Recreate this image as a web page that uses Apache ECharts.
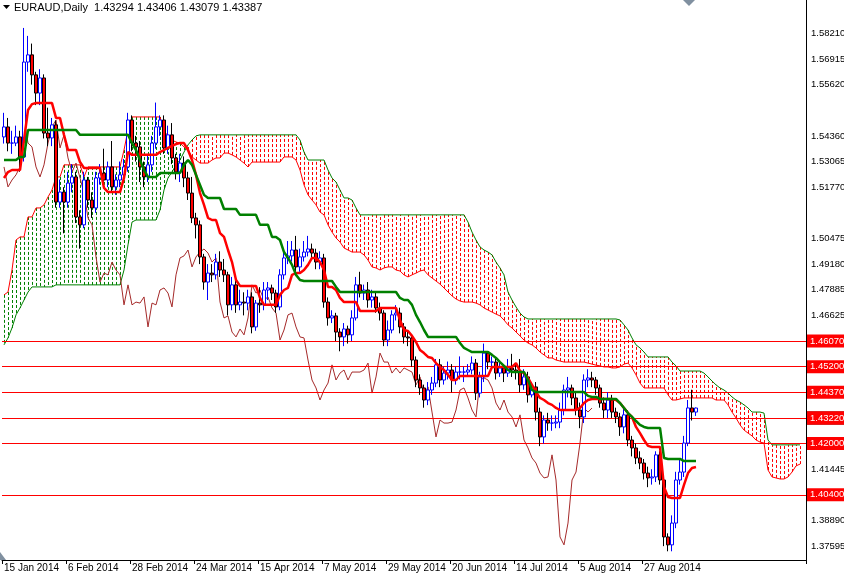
<!DOCTYPE html>
<html><head><meta charset="utf-8">
<script src="https://cdn.jsdelivr.net/npm/echarts@6/dist/echarts.min.js"></script>
<style>html,body{margin:0;padding:0;background:#fff}#c{width:844px;height:576px}</style>
</head><body><div id="c"></div>
<script>
const firstOpen = 1.5396;
const closes = [1.5435,1.5372,1.5372,1.5396,1.5318,1.5688,1.5716,1.5638,1.5567,1.5626,
1.5411,1.5392,1.5443,1.5142,1.5181,1.5142,1.5216,1.5240,1.5084,1.5053,
1.5228,1.5150,1.5119,1.5236,1.5255,1.5228,1.5279,1.5201,1.5228,1.5248,
1.5279,1.5462,1.5372,1.5357,1.5279,1.5240,1.5287,1.5372,1.5435,1.5462,
1.5353,1.5404,1.5314,1.5259,1.5294,1.5236,1.5177,1.5080,1.5053,1.4928,
1.4830,1.4865,1.4858,1.4908,1.4877,1.4858,1.4741,1.4819,1.4741,1.4752,
1.4748,1.4772,1.4655,1.4748,1.4741,1.4799,1.4807,1.4787,1.4733,1.4858,
1.4924,1.4932,1.4955,1.4889,1.4928,1.4947,1.4959,1.4943,1.4908,1.4924,
1.4752,1.4690,1.4698,1.4635,1.4616,1.4647,1.4624,1.4690,1.4819,1.4787,
1.4799,1.4760,1.4772,1.4729,1.4709,1.4604,1.4643,1.4702,1.4709,1.4655,
1.4616,1.4612,1.4526,1.4448,1.4417,1.4370,1.4409,1.4436,1.4507,1.4448,
1.4475,1.4487,1.4448,1.4479,1.4479,1.4479,1.4487,1.4514,1.4397,1.4460,
1.4553,1.4518,1.4518,1.4475,1.4495,1.4475,1.4495,1.4487,1.4479,1.4429,
1.4460,1.4390,1.4421,1.4323,1.4226,1.4292,1.4280,1.4280,1.4284,1.4331,
1.4409,1.4417,1.4378,1.4331,1.4304,1.4448,1.4456,1.4448,1.4417,1.4358,
1.4331,1.4370,1.4323,1.4304,1.4265,1.4312,1.4214,1.4183,1.4144,1.4124,
1.4085,1.4066,1.4070,1.4156,1.4058,1.3836,1.3805,1.3890,1.4058,1.4089,
1.4202,1.4339,1.4323,1.43387];
const highs = [1.5490,1.5470,1.5420,1.5440,1.5420,1.5821,1.5790,1.5760,1.5650,1.5660,
1.5640,1.5510,1.5470,1.5460,1.5230,1.5200,1.5260,1.5290,1.5260,1.5110,
1.5260,1.5240,1.5180,1.5260,1.5290,1.5350,1.5300,1.5380,1.5250,1.5300,
1.5310,1.5490,1.5480,1.5400,1.5380,1.5300,1.5330,1.5400,1.5530,1.5480,
1.5480,1.5440,1.5450,1.5330,1.5330,1.5320,1.5260,1.5240,1.5100,1.5070,
1.4940,1.4900,1.4900,1.4940,1.4950,1.4920,1.4870,1.4850,1.4840,1.4800,
1.4790,1.4800,1.4790,1.4760,1.4810,1.4830,1.4830,1.4820,1.4800,1.4880,
1.4950,1.4990,1.4990,1.5010,1.4960,1.4990,1.5010,1.4980,1.4960,1.4950,
1.4940,1.4770,1.4720,1.4710,1.4650,1.4670,1.4660,1.4720,1.4850,1.4870,
1.4820,1.4830,1.4800,1.4790,1.4750,1.4720,1.4680,1.4720,1.4740,1.4730,
1.4670,1.4640,1.4620,1.4540,1.4470,1.4430,1.4440,1.4460,1.4530,1.4530,
1.4500,1.4520,1.4510,1.4500,1.4540,1.4500,1.4510,1.4540,1.4530,1.4480,
1.4590,1.4560,1.4540,1.4530,1.4520,1.4510,1.4530,1.4550,1.4510,1.4530,
1.4490,1.4480,1.4440,1.4440,1.4340,1.4310,1.4320,1.4310,1.4310,1.4360,
1.4430,1.4460,1.4430,1.4400,1.4360,1.4470,1.4490,1.4480,1.4460,1.4430,
1.4380,1.4400,1.4390,1.4340,1.4320,1.4340,1.4330,1.4230,1.4200,1.4170,
1.4140,1.4110,1.4100,1.4170,1.4170,1.4070,1.3850,1.3920,1.4090,1.4140,
1.4230,1.4370,1.4410,1.43406];
const lows = [1.5370,1.5340,1.5330,1.5360,1.5260,1.5300,1.5650,1.5600,1.5520,1.5520,
1.5390,1.5360,1.5360,1.5120,1.5120,1.5020,1.5120,1.5180,1.5060,1.4960,
1.5040,1.5120,1.5080,1.5100,1.5210,1.5200,1.5200,1.5180,1.5170,1.5200,
1.5220,1.5260,1.5340,1.5300,1.5220,1.5200,1.5220,1.5260,1.5350,1.5400,
1.5330,1.5330,1.5290,1.5230,1.5220,1.5200,1.5150,1.5060,1.5000,1.4900,
1.4800,1.4760,1.4830,1.4840,1.4850,1.4830,1.4700,1.4720,1.4710,1.4720,
1.4700,1.4720,1.4630,1.4640,1.4710,1.4720,1.4760,1.4760,1.4710,1.4720,
1.4840,1.4900,1.4910,1.4870,1.4870,1.4910,1.4930,1.4920,1.4880,1.4880,
1.4730,1.4660,1.4670,1.4600,1.4560,1.4580,1.4590,1.4600,1.4680,1.4770,
1.4760,1.4730,1.4730,1.4710,1.4680,1.4580,1.4580,1.4630,1.4680,1.4630,
1.4590,1.4580,1.4500,1.4420,1.4390,1.4340,1.4350,1.4390,1.4420,1.4420,
1.4430,1.4450,1.4400,1.4430,1.4450,1.4440,1.4460,1.4470,1.4370,1.4380,
1.4440,1.4490,1.4490,1.4450,1.4460,1.4440,1.4460,1.4460,1.4450,1.4400,
1.4410,1.4360,1.4380,1.4290,1.4190,1.4200,1.4250,1.4250,1.4260,1.4260,
1.4310,1.4380,1.4350,1.4310,1.4260,1.4280,1.4420,1.4420,1.4390,1.4340,
1.4300,1.4300,1.4300,1.4280,1.4230,1.4240,1.4190,1.4150,1.4120,1.4100,
1.4060,1.4030,1.4040,1.4050,1.4040,1.3800,1.3780,1.3780,1.3870,1.4040,
1.4070,1.4190,1.4290,1.43079];
const tenkan = [1.5236,1.5259,1.5267,1.5267,1.5267,1.5384,1.5501,1.5524,1.5528,1.5528,
1.5528,1.5528,1.5528,1.5470,1.5470,1.5404,1.5345,1.5345,1.5345,1.5298,
1.5275,1.5275,1.5275,1.5275,1.5275,1.5197,1.5181,1.5181,1.5181,1.5181,
1.5236,1.5337,1.5326,1.5326,1.5326,1.5326,1.5326,1.5326,1.5326,1.5337,
1.5345,1.5353,1.5361,1.5368,1.5372,1.5372,1.5345,1.5306,1.5248,1.5177,
1.5131,1.5080,1.5072,1.5072,1.5021,1.5006,1.4955,1.4908,1.4838,1.4815,
1.4815,1.4815,1.4815,1.4815,1.4768,1.4741,1.4741,1.4741,1.4741,1.4780,
1.4799,1.4807,1.4858,1.4865,1.4865,1.4877,1.4897,1.4924,1.4924,1.4908,
1.4877,1.4811,1.4811,1.4799,1.4768,1.4752,1.4752,1.4752,1.4752,1.4717,
1.4717,1.4717,1.4717,1.4717,1.4729,1.4729,1.4729,1.4729,1.4729,1.4682,
1.4643,1.4639,1.4620,1.4596,1.4565,1.4553,1.4538,1.4534,1.4514,1.4499,
1.4487,1.4468,1.4448,1.4448,1.4464,1.4464,1.4464,1.4464,1.4464,1.4464,
1.4464,1.4464,1.4499,1.4499,1.4499,1.4499,1.4499,1.4499,1.4514,1.4483,
1.4475,1.4456,1.4429,1.4401,1.4378,1.4370,1.4358,1.4351,1.4339,1.4331,
1.4331,1.4331,1.4331,1.4331,1.4339,1.4358,1.4370,1.4374,1.4374,1.4374,
1.4374,1.4374,1.4374,1.4370,1.4358,1.4339,1.4319,1.4304,1.4265,1.4241,
1.4214,1.4191,1.4187,1.4187,1.4187,1.4031,1.3992,1.3988,1.3988,1.3988,
1.4039,1.4085,1.4105,1.4109];
const kijun = [1.5306,1.5306,1.5306,1.5306,1.5318,1.5318,1.5423,1.5423,1.5423,1.5423,
1.5423,1.5423,1.5423,1.5423,1.5423,1.5423,1.5423,1.5423,1.5423,1.5404,
1.5404,1.5404,1.5404,1.5404,1.5404,1.5404,1.5404,1.5404,1.5404,1.5404,
1.5404,1.5404,1.5372,1.5345,1.5306,1.5267,1.5240,1.5240,1.5240,1.5255,
1.5255,1.5255,1.5255,1.5255,1.5255,1.5287,1.5306,1.5287,1.5248,1.5209,
1.5170,1.5158,1.5158,1.5158,1.5158,1.5115,1.5115,1.5115,1.5115,1.5092,
1.5092,1.5092,1.5092,1.5092,1.5053,1.5053,1.5053,1.5006,1.5006,1.4994,
1.4947,1.4924,1.4897,1.4858,1.4838,1.4834,1.4834,1.4834,1.4834,1.4834,
1.4834,1.4834,1.4834,1.4811,1.4791,1.4791,1.4791,1.4791,1.4791,1.4791,
1.4791,1.4791,1.4791,1.4791,1.4791,1.4791,1.4791,1.4791,1.4791,1.4768,
1.4760,1.4760,1.4741,1.4702,1.4674,1.4643,1.4616,1.4616,1.4616,1.4616,
1.4616,1.4616,1.4616,1.4616,1.4592,1.4573,1.4565,1.4557,1.4557,1.4557,
1.4557,1.4557,1.4546,1.4534,1.4518,1.4503,1.4487,1.4479,1.4479,1.4479,
1.4479,1.4448,1.4409,1.4401,1.4401,1.4401,1.4401,1.4401,1.4401,1.4401,
1.4401,1.4401,1.4401,1.4401,1.4401,1.4401,1.4386,1.4382,1.4382,1.4374,
1.4374,1.4374,1.4374,1.4374,1.4358,1.4339,1.4319,1.4304,1.4288,1.4273,
1.4265,1.4261,1.4261,1.4261,1.4261,1.4144,1.4140,1.4140,1.4140,1.4140,
1.4132,1.4132,1.4132,1.4132];
const spanA = [1.4780,1.4791,1.4877,1.4994,1.5006,1.5006,1.5084,1.5084,1.5119,1.5119,
1.5131,1.5162,1.5189,1.5240,1.5240,1.5287,1.5287,1.5287,1.5287,1.5287,
1.5240,1.5279,1.5279,1.5279,1.5279,1.5279,1.5279,1.5279,1.5279,1.5279,
1.5345,1.5423,1.5474,1.5474,1.5474,1.5474,1.5474,1.5474,1.5474,1.5474,
1.5423,1.5396,1.5384,1.5376,1.5372,1.5357,1.5345,1.5318,1.5306,1.5294,
1.5294,1.5294,1.5306,1.5314,1.5314,1.5333,1.5333,1.5326,1.5318,1.5306,
1.5294,1.5279,1.5298,1.5298,1.5298,1.5298,1.5298,1.5298,1.5298,1.5298,
1.5318,1.5318,1.5318,1.5306,1.5267,1.5209,1.5170,1.5150,1.5131,1.5103,
1.5092,1.5053,1.5025,1.5002,1.4986,1.4963,1.4955,1.4947,1.4947,1.4947,
1.4936,1.4916,1.4889,1.4885,1.4877,1.4885,1.4889,1.4889,1.4877,1.4873,
1.4858,1.4850,1.4858,1.4865,1.4873,1.4877,1.4858,1.4846,1.4834,1.4822,
1.4807,1.4791,1.4776,1.4764,1.4756,1.4752,1.4752,1.4752,1.4748,1.4741,
1.4729,1.4721,1.4713,1.4705,1.4698,1.4682,1.4663,1.4651,1.4635,1.4620,
1.4604,1.4592,1.4585,1.4573,1.4557,1.4546,1.4534,1.4534,1.4526,1.4522,
1.4518,1.4518,1.4518,1.4518,1.4518,1.4518,1.4514,1.4510,1.4506,1.4503,
1.4499,1.4499,1.4495,1.4495,1.4499,1.4510,1.4514,1.4495,1.4468,1.4436,
1.4417,1.4417,1.4417,1.4417,1.4417,1.4417,1.4390,1.4370,1.4370,1.4374,
1.4378,1.4378,1.4378,1.4378,1.4378,1.4378,1.4378,1.4378,1.4370,1.4370,
1.4370,1.4351,1.4323,1.4300,1.4273,1.4253,1.4241,1.4230,1.4214,1.4206,
1.4202,1.4097,1.4070,1.4066,1.4062,1.4062,1.4070,1.4089,1.4113,1.4120];
const spanB = [1.4585,1.4612,1.4651,1.4702,1.4729,1.4760,1.4791,1.4811,1.4811,1.4811,
1.4811,1.4811,1.4811,1.4819,1.4819,1.4819,1.4819,1.4819,1.4819,1.4819,
1.4819,1.4819,1.4819,1.4819,1.4819,1.4819,1.4819,1.4819,1.4819,1.4819,
1.4877,1.4975,1.5064,1.5072,1.5072,1.5072,1.5072,1.5072,1.5072,1.5111,
1.5189,1.5236,1.5259,1.5287,1.5306,1.5337,1.5365,1.5384,1.5400,1.5404,
1.5404,1.5404,1.5404,1.5404,1.5404,1.5404,1.5404,1.5404,1.5404,1.5404,
1.5404,1.5404,1.5404,1.5404,1.5404,1.5404,1.5404,1.5404,1.5404,1.5404,
1.5404,1.5404,1.5404,1.5404,1.5384,1.5337,1.5306,1.5306,1.5306,1.5306,
1.5306,1.5267,1.5236,1.5220,1.5189,1.5158,1.5158,1.5150,1.5119,1.5092,
1.5092,1.5092,1.5092,1.5092,1.5092,1.5092,1.5092,1.5092,1.5092,1.5092,
1.5092,1.5092,1.5092,1.5092,1.5092,1.5092,1.5092,1.5092,1.5092,1.5092,
1.5092,1.5092,1.5092,1.5092,1.5092,1.5092,1.5064,1.5025,1.4994,1.4967,
1.4955,1.4947,1.4936,1.4908,1.4885,1.4858,1.4791,1.4760,1.4733,1.4709,
1.4694,1.4686,1.4686,1.4686,1.4686,1.4686,1.4686,1.4686,1.4686,1.4686,
1.4686,1.4686,1.4686,1.4686,1.4686,1.4686,1.4686,1.4686,1.4686,1.4686,
1.4686,1.4686,1.4686,1.4686,1.4682,1.4663,1.4643,1.4612,1.4585,1.4573,
1.4557,1.4538,1.4538,1.4538,1.4538,1.4538,1.4538,1.4518,1.4503,1.4483,
1.4483,1.4483,1.4483,1.4483,1.4483,1.4475,1.4460,1.4444,1.4429,1.4417,
1.4409,1.4397,1.4382,1.4370,1.4362,1.4351,1.4339,1.4323,1.4323,1.4323,
1.4319,1.4214,1.4195,1.4195,1.4195,1.4195,1.4195,1.4195,1.4195,1.4195];
const chikouShift = 26;
const dateIdx = [0,16,32,48,64,80,96,112,128,144,160];
const dateLabels = ['15 Jan 2014','6 Feb 2014','28 Feb 2014','24 Mar 2014','15 Apr 2014','7 May 2014','29 May 2014','20 Jun 2014','14 Jul 2014','5 Aug 2014','27 Aug 2014'];
const priceTicks = ['1.58210','1.56915','1.55620','1.54360','1.53065','1.51770','1.50475','1.49180','1.47885','1.46625','1.45330','1.44035','1.42740','1.41445','1.40150','1.38890','1.37595'];
const levels = ['1.46070','1.45200','1.44370','1.42650','1.42000','1.40400','1.43220'];
const lastPrice = '1.43387';
const nSlots = 201;

const cats = Array.from({length:nSlots},(_,i)=>String(i));
const ohlc = closes.map((c,i)=>[i===0?firstOpen:closes[i-1], c, lows[i], highs[i]]);
const cloud = spanA.map((a,i)=>[i,a,spanB[i]]);
const chikou = closes.slice(chikouShift);
const font = '"Liberation Sans", Arial, sans-serif';

const tickLines = priceTicks.map(t=>({yAxis:+t, lineStyle:{color:'rgba(0,0,0,0)',width:0},
  label:{show:true,position:'end',formatter:t,color:'#000',fontSize:9.5,fontFamily:font,distance:5}}));
const levelLines = levels.map(t=>({yAxis:+t, lineStyle:{color:'#ff0000',width:1,type:'solid'},
  label:{show:true,position:'end',formatter:t,color:'#fff',backgroundColor:'#ff0000',fontSize:9.5,fontFamily:font,padding:[2,2,1,3],distance:1}}));
const lastLine = [{yAxis:+lastPrice, lineStyle:{color:'#a0a0a0',width:1,type:'solid'},
  label:{show:true,position:'end',formatter:lastPrice,color:'#fff',backgroundColor:'#000',fontSize:9.5,fontFamily:font,padding:[2,2,1,3],distance:1}}];

const chart = echarts.init(document.getElementById('c'));
chart.setOption({
  animation:false,
  backgroundColor:'#fff',
  grid:{left:2,right:38,top:0,bottom:16},
  xAxis:{type:'category',data:cats,boundaryGap:true,
    axisLine:{show:true,lineStyle:{color:'#000',width:1}},
    axisTick:{show:true,interval:(i)=>dateIdx.includes(i),length:4,lineStyle:{color:'#000'}},
    axisLabel:{show:true,interval:(i)=>dateIdx.includes(i),align:'left',margin:3,color:'#000',fontSize:10,fontFamily:font,
      formatter:(v,i)=>{const k=dateIdx.indexOf(i);return k>=0?dateLabels[k]:'';}},
    splitLine:{show:false}},
  yAxis:{type:'value',position:'right',min:1.3746,max:1.5930,
    axisLine:{show:true,onZero:false,lineStyle:{color:'#000',width:1}},
    axisTick:{show:false},axisLabel:{show:false},splitLine:{show:false}},
  graphic:[
    {type:'text',left:14,top:2,style:{text:'EURAUD,Daily  1.43294 1.43406 1.43079 1.43387',font:'11px '+font,fill:'#000'}},
    {type:'polygon',shape:{points:[[3,5],[10,5],[6.5,9]]},style:{fill:'#000'}},
    {type:'polygon',shape:{points:[[683,0],[695,0],[689,6]]},style:{fill:'#8090a0'}},
    {type:'polygon',shape:{points:[[0,552],[0,560],[6,560]]},style:{fill:'#8090a0'}}
  ],
  series:[
    {type:'custom',name:'cloud',data:cloud,encode:{x:0,y:[1,2]},z:1,
      renderItem:(params,api)=>{
        const i=api.value(0),a=api.value(1),b=api.value(2);
        const p1=api.coord([i,a]),p2=api.coord([i,b]);
        return {type:'line',shape:{x1:Math.round(p1[0])+0.5,y1:p1[1],x2:Math.round(p2[0])+0.5,y2:p2[1]},
          style:{stroke:a>=b?'#008000':'#ff0000',lineWidth:1,lineDash:[3,2]}};
      }},
    {type:'line',name:'spanA',data:spanA,symbol:'none',lineStyle:{color:'#ff0000',width:1},z:2},
    {type:'line',name:'spanB',data:spanB,symbol:'none',lineStyle:{color:'#008000',width:1},z:2},
    {type:'line',name:'levels',data:[],z:3,markLine:{symbol:'none',silent:true,animation:false,data:[...tickLines,...lastLine,...levelLines]}},
    {type:'line',name:'chikou',data:chikou,symbol:'none',lineStyle:{color:'#a52a2a',width:1},z:4},
    {type:'candlestick',name:'EURAUD',data:ohlc,barWidth:3,z:5,
      itemStyle:{color:'#ffffff',color0:'#ff0000',borderColor:'#0000ff',borderColor0:'#000000',borderWidth:1}},
    {type:'line',name:'tenkan',data:tenkan,symbol:'none',lineStyle:{color:'#ff0000',width:2.5},z:6},
    {type:'line',name:'kijun',data:kijun,symbol:'none',lineStyle:{color:'#008000',width:2.5},z:6}
  ]
});
</script></body></html>
